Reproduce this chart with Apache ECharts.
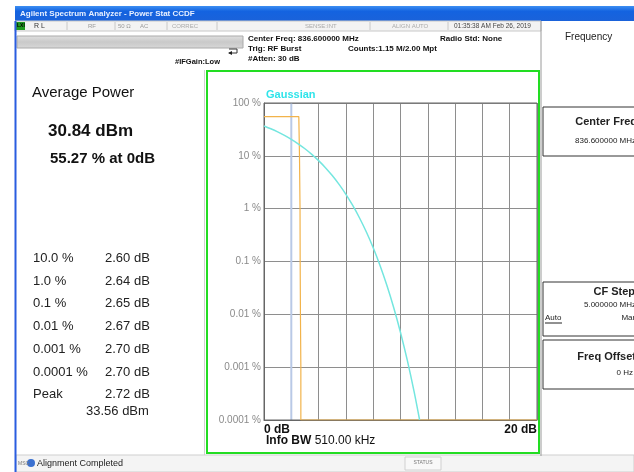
<!DOCTYPE html>
<html><head><meta charset="utf-8">
<script src="https://cdn.jsdelivr.net/npm/echarts@6/dist/echarts.min.js"></script>
<style>html,body{margin:0;padding:0;background:#fff}#c{width:634px;height:472px}</style>
</head><body><div id="c"></div>
<script>
// Gaussian reference CCDF (dB above average power, % probability)
const gaussDb  = [0, 0.5, 1, 1.5, 2, 2.5, 3, 3.5, 4, 4.5, 5, 5.5, 6, 6.5, 7, 7.5, 8, 8.5, 9, 9.5, 10, 10.5, 11, 11.4];
const gaussPct = [36.79, 32.56, 28.40, 24.35, 20.50, 16.89, 13.60, 10.66, 8.11, 5.97, 4.23, 2.878, 1.866, 1.148, 0.666, 0.361, 0.182, 0.0843, 0.0355, 0.01347, 0.00454, 0.00134, 0.00034, 0.0001];
// Measured CCDF trace
const measDb  = [0, 2.55, 2.60, 2.64, 2.65, 2.67, 2.70, 2.70, 20];
const measPct = [55.27, 55.27, 10, 1, 0.1, 0.01, 0.001, 0.0001, 0.0001];
// Stored reference trace
const refDb  = [2, 2];
const refPct = [100, 0.0001];
// Tick labels
const yTickLabels = ['0.0001 %', '0.001 %', '0.01 %', '0.1 %', '1 %', '10 %', '100 %'];
const xTickLabels = ['0 dB', '20 dB'];
// Results table
const tableLevels = ['10.0 %', '1.0 %', '0.1 %', '0.01 %', '0.001 %', '0.0001 %', 'Peak'];
const tableValues = ['2.60 dB', '2.64 dB', '2.65 dB', '2.67 dB', '2.70 dB', '2.70 dB', '2.72 dB'];
const peakPower = '33.56 dBm';
const avgPower = '30.84 dBm';
const atZero = '55.27 % at 0dB';

const zip = (a, b) => a.map((v, i) => [v, b[i]]);
const FF = 'Liberation Sans, Arial, sans-serif';
function T(x, y, text, size, o) {
  o = o || {};
  return { type: 'text', x: x, y: y, z: o.z || 10, silent: true,
    style: { text: text, fontSize: size, fontFamily: FF, fontWeight: o.w || 'normal',
      fill: o.c || '#111', textAlign: o.a || 'left', textVerticalAlign: 'middle' } };
}
function R(x, y, w, h, fill, stroke, o) {
  o = o || {};
  return { type: 'rect', z: o.z || 1, silent: true, shape: { x: x, y: y, width: w, height: h },
    style: { fill: fill || 'none', stroke: stroke || null, lineWidth: o.lw || 1 } };
}
function L(x1, y1, x2, y2, c, w, z) {
  return { type: 'line', z: z || 2, silent: true, shape: { x1: x1, y1: y1, x2: x2, y2: y2 },
    style: { stroke: c, lineWidth: w || 1 } };
}

const g = [];
// title bar
g.push({ type: 'rect', z: 1, silent: true, shape: { x: 15, y: 6, width: 619, height: 15 },
  style: { fill: new echarts.graphic.LinearGradient(0, 0, 0, 1, [
    { offset: 0, color: '#3d8ff2' }, { offset: 0.35, color: '#1463e0' }, { offset: 1, color: '#1a62da' }]) } });
g.push(T(20, 14, 'Agilent Spectrum Analyzer - Power Stat CCDF', 8, { w: 'bold', c: '#e8f0ff' }));
// status row
g.push(R(15, 21, 526, 10, '#f3f3f3', '#c8c8c8'));
g.push(R(16, 22, 9, 8, '#1f9a1f'));
g.push(T(17, 26, 'LXI', 5, { w: 'bold', c: '#000' }));
g.push(T(34, 26, 'R L', 7, { c: '#333' }));
g.push(T(88, 26, 'RF', 6, { c: '#999' }));
g.push(T(118, 26, '50 Ω', 6, { c: '#999' }));
g.push(T(140, 26, 'AC', 6, { c: '#999' }));
g.push(T(172, 26, 'CORREC', 6, { c: '#aaa' }));
g.push(T(305, 26, 'SENSE:INT', 6, { c: '#aaa' }));
g.push(T(392, 26, 'ALIGN AUTO', 6, { c: '#aaa' }));
g.push(T(454, 26, '01:35:38 AM Feb 26, 2019', 6.5, { c: '#444' }));
[67, 115, 167, 217, 370, 448].forEach(x => g.push(L(x, 22, x, 30, '#c8c8c8', 1)));
// header area
g.push({ type: 'rect', z: 1, silent: true, shape: { x: 17, y: 36, width: 226, height: 12 },
  style: { fill: new echarts.graphic.LinearGradient(0, 0, 0, 1, [
    { offset: 0, color: '#e2e2e2' }, { offset: 0.5, color: '#c9c9c9' }, { offset: 1, color: '#d8d8d8' }]), stroke: '#aaa' } });
g.push(T(248, 39, 'Center Freq: 836.600000 MHz', 8, { w: 'bold' }));
g.push(T(248, 49, 'Trig: RF Burst', 8, { w: 'bold' }));
g.push(T(248, 59, '#Atten: 30 dB', 8, { w: 'bold' }));
g.push(T(175, 62, '#IFGain:Low', 7.5, { w: 'bold' }));
g.push(T(348, 49, 'Counts:1.15 M/2.00 Mpt', 8, { w: 'bold' }));
g.push(T(440, 39, 'Radio Std: None', 8, { w: 'bold' }));
g.push({ type: 'polyline', z: 3, silent: true, shape: { points: [[229, 49], [237, 49], [237, 53], [229, 53]] },
  style: { stroke: '#333', lineWidth: 1, fill: 'none' } });
g.push({ type: 'polygon', z: 3, silent: true, shape: { points: [[228, 53], [232, 51], [232, 55]] }, style: { fill: '#222' } });
// left window border
g.push(L(15.5, 21, 15.5, 472, '#2a5de0', 2));
// right panel
g.push(L(541, 21, 541, 456, '#9a9a9a', 1));
g.push(T(565, 37, 'Frequency', 10, { c: '#222' }));
g.push(R(543, 107, 95, 49, 'none', '#333'));
g.push(T(637, 122, 'Center Freq', 11, { w: 'bold', a: 'right', c: '#222' }));
g.push(T(636, 141, '836.600000 MHz', 8, { a: 'right', c: '#222' }));
g.push(R(543, 282, 95, 54, 'none', '#333'));
g.push(T(635, 292, 'CF Step', 11, { w: 'bold', a: 'right', c: '#222' }));
g.push(T(636, 305, '5.000000 MHz', 8, { a: 'right', c: '#222' }));
g.push(T(545, 318, 'Auto', 8, { c: '#222' }));
g.push(L(545, 323, 562, 323, '#222', 1));
g.push(T(637, 318, 'Man', 8, { a: 'right', c: '#222' }));
g.push(R(543, 340, 95, 49, 'none', '#333'));
g.push(T(636, 357, 'Freq Offset', 11, { w: 'bold', a: 'right', c: '#222' }));
g.push(T(633, 373, '0 Hz', 8, { a: 'right', c: '#222' }));
// left panel
g.push(L(204.5, 70, 204.5, 455, '#d0d0d0', 1));
g.push(T(32, 93, 'Average Power', 15, { c: '#111' }));
g.push(T(48, 131, avgPower, 17, { w: 'bold', c: '#111' }));
g.push(T(50, 159, atZero, 15, { w: 'bold', c: '#111' }));
const rowY = [258, 281, 303, 326, 349, 372, 394];
tableLevels.forEach((s, i) => {
  g.push(T(33, rowY[i], s, 13, { c: '#222' }));
  g.push(T(105, rowY[i], tableValues[i], 13, { c: '#222' }));
});
g.push(T(86, 411, peakPower, 13, { c: '#222' }));
// green measurement window
g.push(R(207, 71, 332, 382, 'none', '#22dd22', { lw: 2, z: 5 }));
g.push({ type: 'text', x: 266, y: 441, z: 10, silent: true,
  style: { text: '{b|Info BW} 510.00 kHz', fontSize: 12, fontFamily: FF, fill: '#111', textVerticalAlign: 'middle',
    rich: { b: { fontWeight: 'bold', fontSize: 12, fontFamily: FF, fill: '#111' } } } });
g.push(T(266, 95, 'Gaussian', 11, { w: 'bold', c: '#2fe4ea' }));
// bottom status bar
g.push(R(16, 455, 618, 17, '#f4f4f4', '#cfcfcf'));
g.push(T(18, 464, 'MSG', 5, { c: '#777' }));
g.push({ type: 'circle', z: 3, silent: true, shape: { cx: 31, cy: 463, r: 4 }, style: { fill: '#3a70d0' } });
g.push(T(37, 464, 'Alignment Completed', 9, { c: '#222' }));
g.push(R(405, 457, 36, 13, '#f8f8f8', '#d0d0d0'));
g.push(T(423, 463, 'STATUS', 5, { a: 'center', c: '#777' }));

const chart = echarts.init(document.getElementById('c'), null, { renderer: 'canvas' });
chart.setOption({
  animation: false,
  backgroundColor: '#fff',
  grid: { left: 264, top: 103, width: 273, height: 317, show: true, borderColor: '#666', borderWidth: 1, z: 3 },
  xAxis: {
    type: 'value', min: 0, max: 20, interval: 2,
    axisLine: { show: true, lineStyle: { color: '#666' } },
    axisTick: { show: false },
    splitLine: { show: true, lineStyle: { color: '#8e8e8e', width: 1 } },
    axisLabel: { show: true, margin: 4, fontFamily: FF, fontSize: 12, fontWeight: 'bold', color: '#111',
      alignMinLabel: 'left', alignMaxLabel: 'right',
      formatter: v => v === 0 ? xTickLabels[0] : (v === 20 ? xTickLabels[1] : '') }
  },
  yAxis: {
    type: 'log', logBase: 10, min: 0.0001, max: 100,
    axisLine: { show: true, lineStyle: { color: '#666' } },
    axisTick: { show: false },
    splitLine: { show: true, lineStyle: { color: '#8e8e8e', width: 1 } },
    axisLabel: { margin: 3, fontFamily: FF, fontSize: 10, color: '#8a8a8a',
      formatter: v => yTickLabels[Math.round(Math.log10(v)) + 4] }
  },
  series: [
    { type: 'line', name: 'Ref', data: zip(refDb, refPct), symbol: 'none', z: 2,
      lineStyle: { color: '#b9c9e6', width: 2 } },
    { type: 'line', name: 'Gaussian', data: zip(gaussDb, gaussPct), symbol: 'none', smooth: 0.3, z: 4,
      lineStyle: { color: '#74e6df', width: 1.5 } },
    { type: 'line', name: 'Measured', data: zip(measDb, measPct), symbol: 'none', z: 3,
      lineStyle: { color: '#f2b34a', width: 1.2 } }
  ],
  graphic: { elements: g }
});
</script></body></html>
